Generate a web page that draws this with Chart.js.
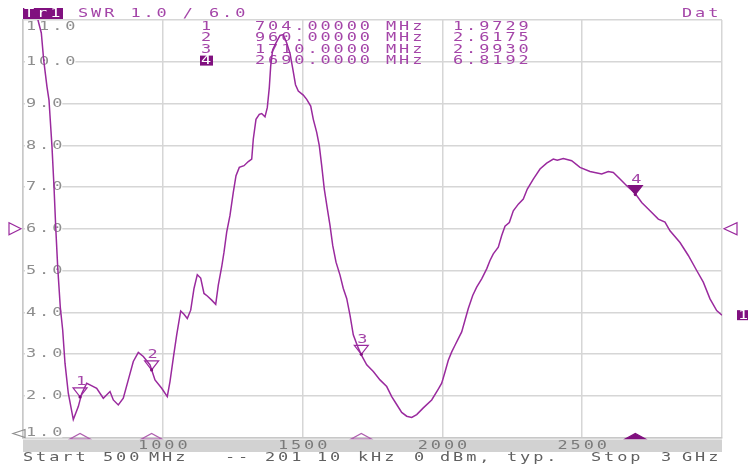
<!DOCTYPE html>
<html>
<head>
<meta charset="utf-8">
<script src="https://cdn.jsdelivr.net/npm/chart.js@4/dist/chart.umd.min.js"></script>
<style>
  html, body { margin: 0; padding: 0; background: #ffffff; }
  #wrap { width: 748px; height: 468px; }
</style>
</head>
<body>
<div id="wrap"><canvas id="c" width="748" height="468"></canvas></div>
<script>
// ---- data ----
const freqMHz = [500, 512.5, 525, 537.5, 553.6, 565.5, 574, 585.8, 593, 597.6, 603.7, 610.9, 617, 624.1, 633.4, 642, 650.2, 662, 679.9, 697.8, 709.9, 727.8, 739.6, 763.6, 787.2, 811.2, 823, 840.8, 858.7, 876.6, 894.5, 912.4, 930.3, 954.2, 972.1, 996, 1016, 1025.7, 1037.5, 1049.7, 1064, 1075.8, 1087.6, 1099.8, 1111.6, 1123.4, 1135.5, 1147.3, 1159.2, 1174.9, 1189.2, 1198.5, 1210.7, 1218.9, 1228.5, 1240.3, 1252.1, 1261.8, 1273.6, 1290.4, 1305.8, 1318, 1323.7, 1333.3, 1345.1, 1353.7, 1365.5, 1373.7, 1380.9, 1385.9, 1393, 1404.9, 1419.2, 1431, 1443.2, 1455, 1465.7, 1474.6, 1484.6, 1502.5, 1514.7, 1529, 1538.3, 1550.4, 1559.7, 1568.3, 1577.6, 1588.4, 1598, 1607.7, 1619.5, 1633.8, 1645.6, 1657.7, 1669.5, 1681.3, 1699.2, 1711.4, 1729.3, 1752.9, 1776.8, 1800.8, 1818.7, 1836.5, 1854.4, 1872.3, 1890.2, 1908.1, 1931.7, 1961.7, 1985.3, 1997.5, 2009.3, 2021.1, 2033.3, 2045.1, 2056.9, 2069, 2080.8, 2092.6, 2108.4, 2122.6, 2140.5, 2158.4, 2170.2, 2182, 2199.9, 2212.1, 2223.9, 2239.3, 2253.6, 2271.5, 2289.3, 2303.7, 2325.1, 2349.1, 2373, 2396.6, 2410.9, 2432.4, 2462.4, 2492.1, 2527.9, 2569.7, 2593.4, 2611.3, 2635.2, 2659.2, 2688.9, 2712.8, 2742.5, 2772.2, 2796.1, 2814, 2849.8, 2879.5, 2909.5, 2933.1, 2957.1, 2981, 3000];
const swr = [13.8, 13.1, 12.4, 11.7, 11.0, 10.69, 10.04, 9.40, 9.08, 8.6, 7.96, 7.0, 6.04, 5.08, 4.12, 3.57, 2.78, 2.06, 1.43, 1.74, 2.05, 2.30, 2.26, 2.18, 1.94, 2.10, 1.90, 1.78, 1.94, 2.38, 2.82, 3.04, 2.94, 2.74, 2.38, 2.18, 1.98, 2.34, 2.90, 3.46, 4.03, 3.95, 3.85, 4.05, 4.57, 4.90, 4.82, 4.45, 4.39, 4.29, 4.19, 4.65, 5.09, 5.44, 5.92, 6.32, 6.87, 7.27, 7.47, 7.51, 7.61, 7.67, 8.15, 8.62, 8.74, 8.76, 8.68, 8.90, 9.38, 9.90, 10.29, 10.45, 10.63, 10.65, 10.45, 10.2, 9.8, 9.45, 9.3, 9.2, 9.10, 8.94, 8.62, 8.31, 7.99, 7.51, 6.95, 6.48, 6.08, 5.60, 5.20, 4.89, 4.57, 4.33, 3.93, 3.46, 3.14, 2.96, 2.74, 2.58, 2.38, 2.22, 1.98, 1.79, 1.60, 1.51, 1.48, 1.55, 1.71, 1.90, 2.16, 2.30, 2.57, 2.85, 3.05, 3.21, 3.37, 3.53, 3.81, 4.09, 4.40, 4.60, 4.80, 5.04, 5.24, 5.40, 5.56, 5.84, 6.06, 6.15, 6.43, 6.59, 6.71, 6.95, 7.19, 7.43, 7.57, 7.67, 7.64, 7.68, 7.63, 7.47, 7.37, 7.31, 7.37, 7.35, 7.19, 7.03, 6.85, 6.63, 6.43, 6.23, 6.16, 5.95, 5.67, 5.36, 5.00, 4.72, 4.32, 4.04, 3.93];

const markerNo = ["1", "2", "3", "4"];
const markerFreq = [704, 960, 1710, 2690];
const markerSwr = [1.9729, 2.6175, 2.9930, 6.8192];
const markerFreqText = ["704.00000 MHz", "960.00000 MHz", "1710.0000 MHz", "2690.0000 MHz"];
const markerSwrText = ["1.9729", "2.6175", "2.9930", "6.8192"];

const yTickValues = [1, 2, 3, 4, 5, 6, 7, 8, 9, 10, 11];
const yTickLabels = ["1.0", "2.0", "3.0", "4.0", "5.0", "6.0", "7.0", "8.0", "9.0", "10.0", "11.0"];
const xTickValues = [1000, 1500, 2000, 2500];
const xTickLabels = ["1000", "1500", "2000", "2500"];

const titleTrace = "Tr1";
const titleFormat = "SWR 1.0 / 6.0";
const titleRight = "Dat";
const footerParts = [["Start", 23], ["500", 103], ["MHz", 149], ["--", 225], ["201", 265], ["10", 317], ["kHz", 358], ["0", 414], ["dBm,", 440], ["typ.", 507], ["Stop", 591], ["3", 661], ["GHz", 682]];

// ---- styles ----
const PURPLE = "#9a2a9e";
const TEXTPURPLE = "#a445a8";
const DARKPURPLE = "#80107f";
const GRID = "#d6d6d6";
const LABELGRAY = "#8e8e8e";
const FONT = "'DejaVu Sans Mono', 'Liberation Mono', monospace";

function drawText(ctx, s, x, yc, color, pitch) {
  pitch = pitch || 13.1;
  ctx.save();
  ctx.fillStyle = color;
  ctx.font = "13px " + FONT;
  ctx.textBaseline = "middle";
  ctx.textAlign = "left";
  for (let i = 0; i < s.length; i++) {
    ctx.save();
    ctx.translate(x + i * pitch, yc);
    ctx.scale(1.3, 1);
    ctx.fillText(s[i], 0, 0);
    ctx.restore();
  }
  ctx.restore();
}
function tri(ctx, pts, fill, stroke) {
  ctx.beginPath();
  ctx.moveTo(pts[0][0], pts[0][1]);
  ctx.lineTo(pts[1][0], pts[1][1]);
  ctx.lineTo(pts[2][0], pts[2][1]);
  ctx.closePath();
  if (fill) { ctx.fillStyle = fill; ctx.fill(); }
  if (stroke) { ctx.strokeStyle = stroke; ctx.lineWidth = 1.2; ctx.stroke(); }
}

const decor = {
  id: "decor",
  beforeDatasetsDraw(chart) {
    const ctx = chart.ctx;
    const ys = chart.scales.y;
    const ca = chart.chartArea;
    ctx.save();
    // y labels with white background
    yTickValues.forEach((v, i) => {
      let yc = ys.getPixelForValue(v);
      yc = Math.max(ca.top + 6.5, Math.min(ca.bottom - 5, yc));
      const lbl = yTickLabels[i];
      const w = lbl.length * 13.1 - 2;
      ctx.fillStyle = "#ffffff";
      ctx.fillRect(ca.left + 2, yc - 5, w, 10);
      drawText(ctx, lbl, ca.left + 3, yc, LABELGRAY);
    });
    // marker table
    const rows = [26.7, 38, 49.3, 60.6];
    markerNo.forEach((n, i) => {
      if (i === 3) {
        ctx.fillStyle = DARKPURPLE;
        ctx.fillRect(200, rows[i] - 5, 13, 10);
        drawText(ctx, n, 201, rows[i], "#ffffff");
      } else {
        drawText(ctx, n, 201, rows[i], TEXTPURPLE);
      }
      drawText(ctx, markerFreqText[i], 255, rows[i], TEXTPURPLE);
      drawText(ctx, markerSwrText[i], 453, rows[i], TEXTPURPLE);
    });
    ctx.restore();
  },
  afterDatasetsDraw(chart) {
    const ctx = chart.ctx;
    const xs = chart.scales.x, ys = chart.scales.y;
    const ca = chart.chartArea;
    ctx.save();
    // markers on trace
    markerFreq.forEach((f, i) => {
      const px = xs.getPixelForValue(f);
      const py = ys.getPixelForValue(markerSwr[i]);
      const filled = i === 3;
      tri(ctx, [[px - 7, py - 9], [px + 7, py - 9], [px, py]], filled ? DARKPURPLE : null, filled ? DARKPURPLE : PURPLE);
      ctx.fillStyle = DARKPURPLE;
      ctx.beginPath(); ctx.arc(px, py, 1.6, 0, Math.PI * 2); ctx.fill();
      drawText(ctx, markerNo[i], px - 4, py - 15, TEXTPURPLE);
      // bottom position indicator
      tri(ctx, [[px - 10, ca.bottom + 1.5], [px + 10, ca.bottom + 1.5], [px, ca.bottom - 4]], filled ? DARKPURPLE : null, filled ? DARKPURPLE : "#b060b0");
    });
    // bottom band and x labels
    ctx.fillStyle = "#d2d2d2";
    ctx.fillRect(ca.left, ca.bottom + 2, ca.right - ca.left, 12.5);
    xTickValues.forEach((v, i) => {
      const px = xs.getPixelForValue(v);
      const lbl = xTickLabels[i];
      drawText(ctx, lbl, px - (lbl.length * 13.1 - 3) / 2, ca.bottom + 8.5, "#7a7a7a");
    });
    // reference level indicators
    const yRef = ys.getPixelForValue(6);
    tri(ctx, [[9, yRef - 6], [9, yRef + 6], [21, yRef]], null, PURPLE);
    tri(ctx, [[737, yRef - 6], [737, yRef + 6], [724, yRef]], null, PURPLE);
    tri(ctx, [[13, ca.bottom - 4], [25, ca.bottom - 8], [25, ca.bottom]], null, LABELGRAY);
    // trace label at right end
    const yEnd = ys.getPixelForValue(swr[swr.length - 1]);
    ctx.fillStyle = DARKPURPLE;
    ctx.fillRect(737, yEnd - 5, 11, 10);
    drawText(ctx, "1", 738, yEnd, "#ffffff");
    // header
    ctx.fillStyle = DARKPURPLE;
    ctx.fillRect(23, 8, 40, 11);
    drawText(ctx, titleTrace, 24, 13.5, "#ffffff");
    drawText(ctx, titleFormat, 78, 14, TEXTPURPLE);
    drawText(ctx, titleRight, 682, 14, TEXTPURPLE);
    // footer
    footerParts.forEach(p => drawText(ctx, p[0], p[1], 457.5, "#606060"));
    ctx.restore();
  }
};

new Chart(document.getElementById("c"), {
  type: "line",
  data: {
    datasets: [{
      data: freqMHz.map((f, i) => ({ x: f, y: swr[i] })),
      borderColor: PURPLE,
      borderWidth: 1.5,
      pointRadius: 0,
      tension: 0,
      fill: false
    }]
  },
  options: {
    responsive: false,
    animation: false,
    layout: { padding: { left: 23, right: 26, top: 20, bottom: 30.5 } },
    plugins: { legend: { display: false }, tooltip: { enabled: false } },
    scales: {
      x: {
        type: "linear", min: 500, max: 3000,
        ticks: { display: false, stepSize: 500 },
        grid: { color: GRID, lineWidth: 1.5, drawTicks: false },
        border: { display: true, color: "#c8c8c8", width: 1.5 }
      },
      y: {
        type: "linear", min: 1, max: 11,
        ticks: { display: false, stepSize: 1 },
        grid: { color: GRID, lineWidth: 1.5, drawTicks: false },
        border: { display: true, color: "#c8c8c8", width: 1.5 }
      }
    }
  },
  plugins: [decor]
});
</script>
</body>
</html>
